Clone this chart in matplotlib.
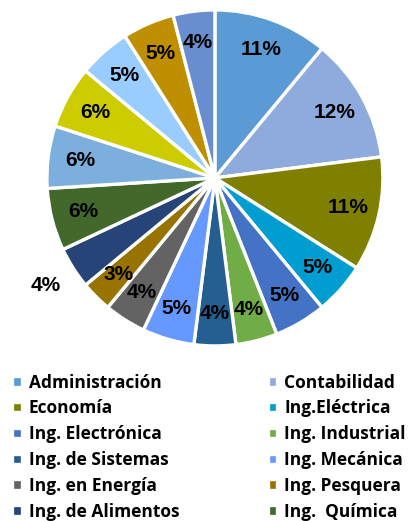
import numpy as np
from matplotlib import pyplot as plt

# share of students per school (percent)
escuelas = ['Administración', 'Contabilidad', 'Economía', 'Ing.Eléctrica',
            'Ing. Electrónica', 'Ing. Industrial', 'Ing. de Sistemas',
            'Ing. Mecánica', 'Ing. en Energía', 'Ing. Pesquera',
            'Ing. de Alimentos', 'Ing.  Química',
            'Otra 1', 'Otra 2', 'Otra 3', 'Otra 4', 'Otra 5']
porcentaje = [11, 12, 11, 5, 5, 4, 4, 5, 4, 3, 4, 6, 6, 6, 5, 5, 4]
colores = ['#5B9BD5', '#8FAADC', '#808000', '#009DD0', '#4472C4', '#70AD47',
           '#255E91', '#6699FF', '#636363', '#997300', '#264478', '#43682B',
           '#7CAFDD', '#CCCC00', '#99CCFF', '#BF8F00', '#698ED0']
n_leyenda = 12  # only the first entries fit in the picture

fig = plt.figure(figsize=(4.08, 5.21), dpi=100)
ax = fig.add_axes([0.115, 0.336, 0.8235, 0.645])

wedges, texts, autotexts = ax.pie(
    porcentaje, colors=colores, startangle=90, counterclock=False,
    autopct='%1.0f%%', pctdistance=0.81,
    wedgeprops=dict(edgecolor='white', linewidth=2.4),
    textprops=dict(fontsize=15, fontweight='bold', color='black',
                   family='Liberation Sans'))
ax.set_xlim(-1, 1)
ax.set_ylim(-1, 1)

# the small slice label for Ing. de Alimentos sits outside the pie
w = wedges[10]
ang = np.deg2rad((w.theta1 + w.theta2) / 2)
autotexts[10].set_position((1.19 * np.cos(ang), 1.19 * np.sin(ang)))

# legend is filled row by row in the reference
orden = list(range(0, n_leyenda, 2)) + list(range(1, n_leyenda, 2))
leg = fig.legend([wedges[i] for i in orden], [escuelas[i] for i in orden],
                 loc='upper left', bbox_to_anchor=(0.03, 0.283), ncol=2,
                 frameon=False, borderpad=0, borderaxespad=0,
                 handlelength=0.55, handleheight=0.55, handletextpad=0.4,
                 columnspacing=5.1, labelspacing=0.45,
                 prop=dict(family=['Open Sans', 'DejaVu Sans'], weight='bold', size=12.5))

plt.savefig('out.png', dpi=100)
